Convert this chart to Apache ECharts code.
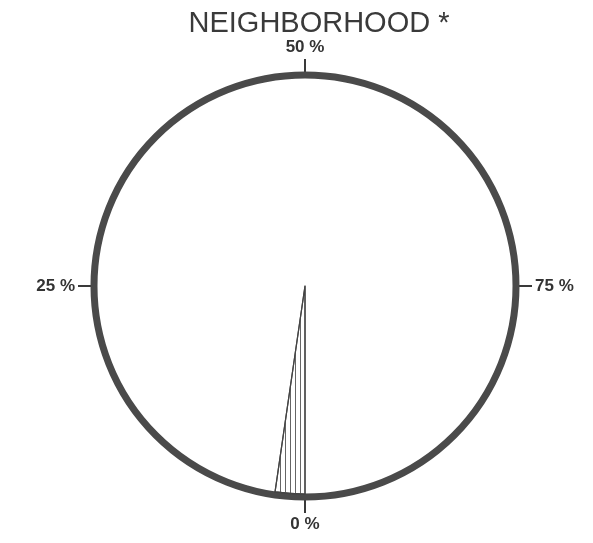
<!DOCTYPE html>
<html>
<head>
<meta charset="utf-8">
<script src="https://cdn.jsdelivr.net/npm/echarts@6/dist/echarts.min.js"></script>
<style>
html,body{margin:0;padding:0;background:#fff;}
#chart{width:593px;height:543px;}
</style>
</head>
<body>
<div id="chart"></div>
<script>
const titleText = 'NEIGHBORHOOD *';
const categories = ['Neighborhood', 'Other'];
const values = [2.3, 97.7];
const tickValues = [0, 25, 50, 75];
const tickLabels = ['0 %', '25 %', '50 %', '75 %'];

const chart = echarts.init(document.getElementById('chart'));
const center = [305, 286];
const R = 211;

chart.setOption({
  animation: false,
  backgroundColor: '#fff',
  title: {
    text: titleText,
    left: 314,
    textAlign: 'center',
    top: 4,
    textStyle: { fontFamily: 'Liberation Sans, Arial, sans-serif', fontSize: 29, fontWeight: 'normal', color: '#3a3a3a' }
  },
  polar: { center: center, radius: R },
  angleAxis: {
    type: 'value',
    min: 0,
    max: 100,
    interval: 25,
    startAngle: 270,
    clockwise: true,
    axisLine: { show: true, lineStyle: { color: '#4a4a4a', width: 7 } },
    axisTick: { show: true, length: 16, lineStyle: { color: '#3a3a3a', width: 2 } },
    splitLine: { show: false },
    axisLabel: {
      margin: 19,
      fontFamily: 'Liberation Sans, Arial, sans-serif',
      fontSize: 17,
      fontWeight: 'bold',
      color: '#333',
      formatter: function (v) {
        const i = tickValues.indexOf(v);
        return i >= 0 ? tickLabels[i] : '';
      }
    }
  },
  radiusAxis: { show: false, min: 0, max: 1 },
  series: [{
    type: 'pie',
    center: center,
    radius: [0, R - 3],
    startAngle: 270,
    clockwise: true,
    silent: true,
    label: { show: false },
    labelLine: { show: false },
    z: 3,
    data: categories.map(function (c, i) {
      if (i === 0) {
        return {
          name: c, value: values[i],
          itemStyle: {
            color: '#fff', borderColor: '#444', borderWidth: 1.2,
            decal: { symbol: 'rect', symbolSize: 1, dashArrayX: [1, 4], dashArrayY: [5, 0], color: '#666', rotation: 0 }
          }
        };
      }
      return { name: c, value: values[i], itemStyle: { color: 'rgba(0,0,0,0)', borderWidth: 0 } };
    })
  }]
});
</script>
</body>
</html>
